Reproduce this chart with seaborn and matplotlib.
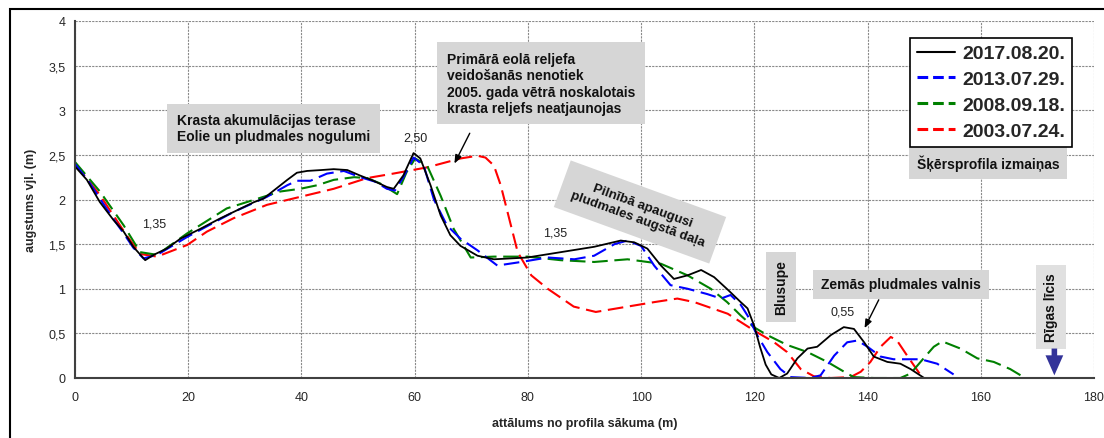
import numpy as np
import pandas as pd
import matplotlib
matplotlib.use("Agg")
import matplotlib.pyplot as plt
import seaborn as sns
from matplotlib.lines import Line2D
from matplotlib.patches import Rectangle

# ---------------- data ----------------
series_names = ["2017.08.20.", "2013.07.29.", "2008.09.18.", "2003.07.24."]
series_colors = ["#000000", "#0000ff", "#008000", "#ff0000"]

x_2017 = [0, 2.1, 4.4, 6.8, 8.6, 10.3, 12.4, 13.9, 16.2, 18.6, 22.1, 25.7, 28, 31.6, 33.3,
          35.1, 37.5, 39.2, 41, 43.5, 45.7, 48.1, 50.3, 52.7, 55.1, 56.3, 58.0, 59.8, 61.0,
          62.8, 64.6, 66.3, 68.1, 71.1, 74, 79.9, 85.8, 91.7, 96.4, 98.8, 101.1, 103.5,
          105.8, 108.2, 110.6, 112.9, 115.3, 117.6, 118.8, 120, 121, 122, 123, 124.4,
          125.8, 127.6, 129.4, 131.1, 133.5, 135.8, 137.6, 139.4, 141.1, 143.5, 145.8,
          147.6, 150]
y_2017 = [2.37, 2.22, 1.97, 1.77, 1.64, 1.47, 1.32, 1.38, 1.45, 1.56, 1.67, 1.79, 1.86, 1.97,
          2.01, 2.10, 2.22, 2.30, 2.32, 2.33, 2.34, 2.33, 2.27, 2.21, 2.14, 2.12, 2.27, 2.52,
          2.46, 2.16, 1.82, 1.60, 1.48, 1.37, 1.33, 1.35, 1.41, 1.47, 1.54, 1.52, 1.45, 1.26,
          1.11, 1.15, 1.21, 1.13, 0.99, 0.85, 0.78, 0.58, 0.35, 0.15, 0.04, 0.0,
          0.05, 0.22, 0.33, 0.35, 0.48, 0.57, 0.55, 0.40, 0.24, 0.18, 0.16, 0.10, 0.0]

x_2013 = [0, 2.65, 4.5, 6.8, 8.6, 10.3, 12.1, 14.5, 19.8, 28, 33.9, 37.5, 39.2, 41.6, 44.5,
          47.5, 50.4, 53, 55.1, 56.5, 58.0, 59.8, 61.6, 63.4, 65.7, 68.1, 71.1, 74.6, 78.8,
          83.5, 88.2, 91.7, 95.3, 97.6, 100, 102.3, 105.2, 108.2, 111.7, 114.1, 115.8, 117.6,
          118.8, 120.5, 122.3, 124.6, 126.4, 129.9, 131.7, 134.1, 136.4, 138.2, 140.0, 142.3,
          144.6, 149.4, 152.3, 155.2]
y_2013 = [2.40, 2.18, 2.0, 1.78, 1.62, 1.46, 1.34, 1.38, 1.58, 1.86, 2.03, 2.16, 2.21, 2.21,
          2.29, 2.32, 2.25, 2.2, 2.12, 2.1, 2.25, 2.47, 2.38, 2.0, 1.71, 1.56, 1.43, 1.26, 1.30,
          1.35, 1.33, 1.37, 1.50, 1.54, 1.48, 1.26, 1.04, 1.00, 0.94, 0.89, 0.93, 0.82, 0.70,
          0.48, 0.29, 0.10, 0.01, 0.0, 0.03, 0.25, 0.40, 0.42, 0.35, 0.24, 0.21, 0.21, 0.16,
          0.04]

x_2008 = [0, 4.4, 8.6, 11.5, 14.5, 19.8, 26.8, 33.3, 36.3, 39.8, 42.8, 45.7, 49.3, 51.6,
          53.9, 56.9, 58.6, 60.1, 62.2, 64.6, 66.9, 69.9, 74, 79.9, 85.8, 91.7, 97.6, 103.5,
          108.2, 112.3, 115.2, 117.6, 119.9, 122.3, 125.8, 129.4, 132.9, 136.4, 137.6, 141.1,
          145.8, 147.6, 149.9, 151.7, 153.2, 156.4, 159.4, 162.3, 165.2, 167.3]
y_2008 = [2.42, 2.09, 1.71, 1.41, 1.38, 1.62, 1.90, 2.03, 2.09, 2.12, 2.16, 2.22, 2.25, 2.24,
          2.18, 2.06, 2.31, 2.46, 2.38, 2.04, 1.67, 1.35, 1.36, 1.36, 1.32, 1.30, 1.33, 1.28,
          1.15, 1.0, 0.85, 0.70, 0.57, 0.48, 0.37, 0.29, 0.18, 0.05, 0.01, 0.0, 0.0, 0.05,
          0.22, 0.35, 0.41, 0.33, 0.22, 0.18, 0.10, 0.02]

x_2003 = [0, 4.4, 9.1, 11.5, 14.5, 19.8, 23.3, 28, 33.9, 39.8, 45.7, 51.6, 56.2, 62.2, 68.1,
          71.1, 72.5, 74, 75.2, 76.4, 78.2, 80.6, 83.5, 85.8, 88.1, 92, 97.6, 102.3, 106.4,
          109.4, 115.3, 120, 123.5, 125.8, 128.2, 130.5, 133.5, 137, 138.8, 140.5, 142.3,
          144.1, 145.2, 147, 149.4, 149.9]
y_2003 = [2.40, 2.05, 1.60, 1.39, 1.36, 1.49, 1.64, 1.79, 1.94, 2.03, 2.12, 2.24, 2.29, 2.36,
          2.46, 2.49, 2.47, 2.38, 2.16, 1.86, 1.41, 1.15, 1.0, 0.90, 0.80, 0.74, 0.80, 0.85,
          0.89, 0.85, 0.72, 0.53, 0.40, 0.29, 0.10, 0.02, 0.0, 0.01, 0.07, 0.18, 0.35, 0.46,
          0.42, 0.25, 0.03, 0.0]

x_ticks = [0, 20, 40, 60, 80, 100, 120, 140, 160, 180]
y_ticks = [0, 0.5, 1, 1.5, 2, 2.5, 3, 3.5, 4]
y_tick_labels = ["0", "0,5", "1", "1,5", "2", "2,5", "3", "3,5", "4"]

# ---------------- build table ----------------
frames = []
for name, xs, ys in zip(series_names,
                        [x_2017, x_2013, x_2008, x_2003],
                        [y_2017, y_2013, y_2008, y_2003]):
    frames.append(pd.DataFrame({"x": xs, "y": ys, "series": name}))
df = pd.concat(frames, ignore_index=True)

sns.set_style("white")
plt.rcParams["font.family"] = ["Liberation Sans", "DejaVu Sans"]

fig = plt.figure(figsize=(11.04, 4.39), dpi=100)
ax = fig.add_axes([75 / 1104, 1 - 379 / 439, 1019 / 1104, 357 / 439])

palette = dict(zip(series_names, series_colors))
dash = (7.5, 3.2)
dashes = {"2017.08.20.": "", "2013.07.29.": dash, "2008.09.18.": dash, "2003.07.24.": dash}
hue_order = ["2003.07.24.", "2008.09.18.", "2013.07.29.", "2017.08.20."]

sns.lineplot(data=df, x="x", y="y", hue="series", style="series", hue_order=hue_order,
             style_order=hue_order, palette=palette, dashes=dashes, sort=False,
             estimator=None, legend=False, ax=ax, linewidth=1.5)
for ln in ax.lines:
    if ln.get_color() in ("#000000", "black", (0, 0, 0, 1)):
        ln.set_linewidth(1.3)

ax.set_xlim(0, 180)
ax.set_ylim(0, 4)
ax.set_xticks(x_ticks)
ax.set_yticks(y_ticks)
ax.set_yticklabels(y_tick_labels)
ax.grid(True, color="#8a8a8a", linestyle=(0, (2, 1)), linewidth=0.8)
ax.set_axisbelow(True)
for s in ["top", "right"]:
    ax.spines[s].set_visible(False)
for s in ["left", "bottom"]:
    ax.spines[s].set_color("#404040")
    ax.spines[s].set_linewidth(1.5)
ax.tick_params(axis="x", direction="inout", length=7, width=1, color="#404040",
               labelsize=9, pad=6)
ax.tick_params(axis="y", direction="out", length=4, width=1, color="#404040",
               labelsize=9, pad=3)

ax.set_xlabel("attālums no profila sākuma (m)", fontsize=9, fontweight="bold")
ax.set_ylabel("augstums vjl. (m)", fontsize=9, fontweight="bold")
ax.xaxis.set_label_coords(0.5, -0.108)
ax.yaxis.set_label_coords(-0.037, 0.5)

# legend
handles = []
for name, col in zip(series_names, series_colors):
    if name == "2017.08.20.":
        handles.append(Line2D([], [], color=col, lw=1.5))
    else:
        handles.append(Line2D([], [], color=col, lw=2.2, dashes=(3.5, 1.6)))
leg = ax.legend(handles, series_names, loc="upper right",
                bbox_to_anchor=((1072 - 75) / 1019, 1 - (39 - 22) / 357),
                prop={"family": "Liberation Sans", "weight": "bold", "size": 14},
                frameon=True, fancybox=False, edgecolor="black", framealpha=1,
                handlelength=1.95, handletextpad=0.4, labelspacing=0.42,
                borderpad=0.35, borderaxespad=0)
leg.get_frame().set_linewidth(1.2)

box = dict(boxstyle="square,pad=0.7", facecolor="#d6d6d6", edgecolor="none")
kw = dict(fontsize=10, fontweight="bold", color="#111111")

ax.text(18.0, 2.80, "Krasta akumulācijas terase\nEolie un pludmales nogulumi",
        ha="left", va="center", linespacing=1.15, bbox=box, **kw)
ax.text(65.7, 3.30, "Primārā eolā reljefa\nveidošanās nenotiek\n"
        "2005. gada vētrā noskalotais\nkrasta reljefs neatjaunojas",
        ha="left", va="center", linespacing=1.2, bbox=box, **kw)
ax.text(99.8, 1.86, "Pilnībā apaugusi\npludmales augstā daļa", ha="center", va="center",
        rotation=-20, rotation_mode="anchor", linespacing=1.2,
        bbox=dict(boxstyle="square,pad=0.9", facecolor="#d6d6d6", edgecolor="none"),
        fontsize=9.5, fontweight="bold", color="#111111")
ax.text(161.3, 2.41, "Šķērsprofila izmaiņas", ha="center", va="center",
        bbox=dict(boxstyle="square,pad=0.55", facecolor="#d6d6d6", edgecolor="none"), **kw)
ax.text(124.7, 1.02, "Blusupe", ha="center", va="center", rotation=90,
        bbox=dict(boxstyle="square,pad=0.55", facecolor="#d6d6d6", edgecolor="none"), **kw)
ax.text(145.9, 1.048, "Zemās pludmales valnis", ha="center", va="center",
        bbox=dict(boxstyle="square,pad=0.55", facecolor="#d6d6d6", edgecolor="none"), **kw)
ax.text(172.4, 0.795, "Rīgas līcis", ha="center", va="center", rotation=90,
        bbox=dict(boxstyle="square,pad=0.55", facecolor="#e0e0e0", edgecolor="none"), **kw)

# value labels
for xv, yv, t in [(14.0, 1.73, "1,35"), (60.1, 2.70, "2,50"), (84.8, 1.63, "1,35"),
                  (135.6, 0.75, "0,55")]:
    ax.text(xv, yv, t, ha="center", va="center", fontsize=9, color="#222222")

# arrows
ax.annotate("", xy=(66.8, 2.375), xytext=(69.95, 2.77),
            arrowprops=dict(arrowstyle="-|>,head_length=0.5,head_width=0.2", color="black", lw=1))
ax.annotate("", xy=(139.25, 0.531), xytext=(142.2, 0.904),
            arrowprops=dict(arrowstyle="-|>,head_length=0.5,head_width=0.2", color="black", lw=1))
ax.annotate("", xy=(173.0, 0.03), xytext=(173.0, 0.33),
            arrowprops=dict(arrowstyle="simple,head_length=0.9,head_width=0.8,tail_width=0.25",
                            color="#333399", mutation_scale=16, lw=0, shrinkA=0, shrinkB=0))

# outer frame
fig.patches.append(Rectangle((10 / 1104, -0.1), 1.2, 1.1 - 10.5 / 439, transform=fig.transFigure,
                             fill=False, edgecolor="black", linewidth=1.5))

fig.savefig("out.png", dpi=100)
